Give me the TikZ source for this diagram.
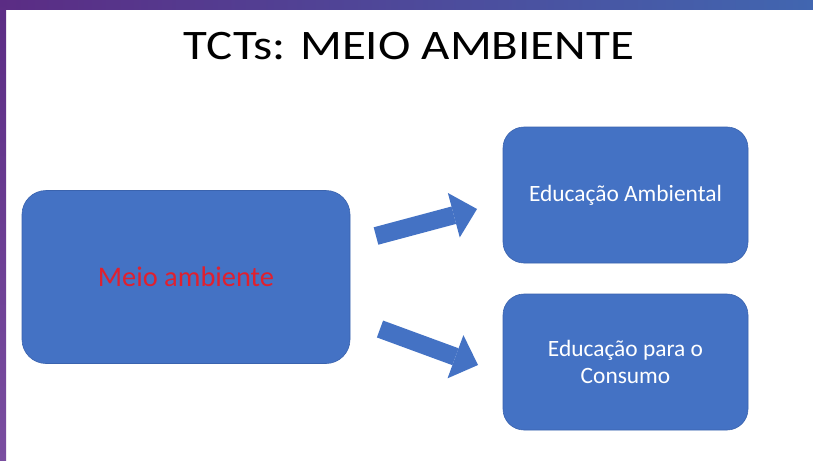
\documentclass[tikz,border=0pt]{standalone}
\usepackage{fontspec}
\setmainfont{Carlito}
\usetikzlibrary{arrows.meta}

\definecolor{boxblue}{HTML}{4472C4}
\definecolor{boxedge}{HTML}{3A63AE}
\definecolor{meiored}{HTML}{E0202E}
\definecolor{bandpurple}{HTML}{5B2C84}
\definecolor{bandblue}{HTML}{4166B0}
\definecolor{sidepurple}{HTML}{7A4EA0}

\tikzset{
  blockbox/.style = {draw=boxedge, line width=0.6pt, fill=boxblue, rounded corners=24pt,
    align=center, text=white, font=\fontsize{23.4}{26.5}\selectfont},
  seta/.style = {draw=boxblue, line width=18pt,
    -{Triangle[length=24pt, width=46pt, line width=0pt]}}
}

\begin{document}
\begin{tikzpicture}[x=1pt, y=-1pt]
    \useasboundingbox (0,0) rectangle (813,460);
    \fill[white] (0,0) rectangle (813,460);
    \shade[left color=bandpurple, right color=bandblue] (0,0) rectangle (813,10);
    \shade[top color=bandpurple, bottom color=sidepurple] (0,0) rectangle (6,460);

    \node[font=\fontsize{42}{46}\selectfont] (titulo) at (409,46)
      {\scalebox{1.165}[1]{TCTs: MEIO AMBIENTE}};

    \node[blockbox, minimum width=328pt, minimum height=173pt, text=meiored,
      font=\fontsize{28.4}{32}\selectfont] (meio) at (186,277) {Meio ambiente};
    \node[blockbox, minimum width=245pt, minimum height=136pt, rounded corners=21pt]
      (ambiental) at (625.5,195) {Educação Ambiental};
    \node[blockbox, minimum width=245pt, minimum height=136pt, rounded corners=21pt]
      (consumo) at (625.5,362) {Educação para o\\Consumo};

    \coordinate (s1a) at (376,236);
    \coordinate (s1b) at (477,209);
    \coordinate (s2a) at (380,329);
    \coordinate (s2b) at (478,365);
    \draw[seta] (s1a) -- (s1b);
    \draw[seta] (s2a) -- (s2b);
\end{tikzpicture}
\end{document}
